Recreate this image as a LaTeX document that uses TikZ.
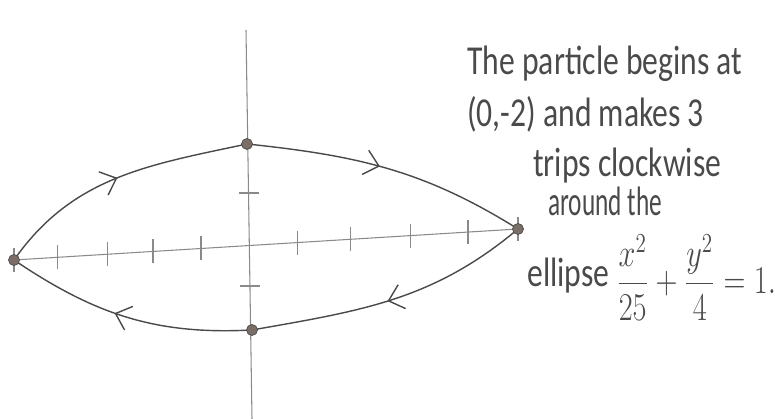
\documentclass[tikz,border=0pt]{standalone}
\usepackage{amsmath}
\usepackage{fontspec}
\setmainfont{Carlito}
\usepackage{tikz}
\usetikzlibrary{arrows.meta, decorations.markings, positioning, calc}

\definecolor{lead}{HTML}{4A4A4A}
\definecolor{faint}{HTML}{8A8A8A}
\definecolor{smudge}{HTML}{7A6E66}

\begin{document}
\begin{tikzpicture}[
    every node/.style={font=\fontsize{18}{22}\selectfont},
    curve/.style={draw=lead, line width=0.8pt},
    axis/.style={draw=faint, line width=0.6pt},
    tick/.style={draw=faint, line width=0.7pt},
    dot/.style={circle, fill=smudge, draw=lead, line width=0.4pt, inner sep=0pt, minimum size=2.2mm},
    flow/.style={postaction=decorate, decoration={markings, mark=at position #1 with {\arrow[lead, line width=0.8pt]{Straight Barb[length=2.8mm, width=5mm]}}}},
    note/.style={text=lead, anchor=base west, inner sep=0pt, yscale=1.3, transform shape}
]
\useasboundingbox (0,0) rectangle (15.5,8.38);

\coordinate (top) at (4.94,5.50);
\coordinate (right) at (10.36,3.80);
\coordinate (bottom) at (5.04,1.78);
\coordinate (left) at (0.28,3.18);
\coordinate (yhigh) at (4.92,7.78);
\coordinate (ylow) at (5.04,0);

% axes
\draw[axis] (left) -- (right);
\draw[axis] (ylow) -- (yhigh);
\foreach \t in {0,0.087,0.185,0.276,0.371,0.563,0.667,0.786,0.901,1}
    \draw[tick] ($(left)!\t!(right)+(0,-0.24)$) -- ++(0,0.48);
\foreach \t in {0.342,0.581}
    \draw[tick] ($(ylow)!\t!(yhigh)+(-0.2,0)$) -- ++(0.4,0);

% the path, clockwise
\draw[curve, flow=0.47] (top) to[out=-6, in=148] (right);
\draw[curve, flow=0.52] (right) to[out=220, in=10] (bottom);
\draw[curve, flow=0.55] (bottom) to[out=183, in=-34] (left);
\draw[curve, flow=0.50] (left) to[out=55, in=192] (top);

\node[dot] (topdot) at (top) {};
\node[dot] (rightdot) at (right) {};
\node[dot] (bottomdot) at (bottom) {};
\node[dot] (leftdot) at (left) {};

% the note
\node[note] (line1) at (9.34,6.88) {The particle begins at};
\node[note] (line2) at (9.34,5.84) {(0,-2) and makes 3};
\node[note] (line3) at (10.66,4.84) {trips clockwise};
\node[note, xscale=0.8] (line4) at (10.96,4.06) {around the};
\node[note] (line5) at (10.54,2.64) {ellipse \raisebox{-0.15em}{$\displaystyle\frac{x^2}{25}+\frac{y^2}{4}=1.$}};
\end{tikzpicture}
\end{document}
